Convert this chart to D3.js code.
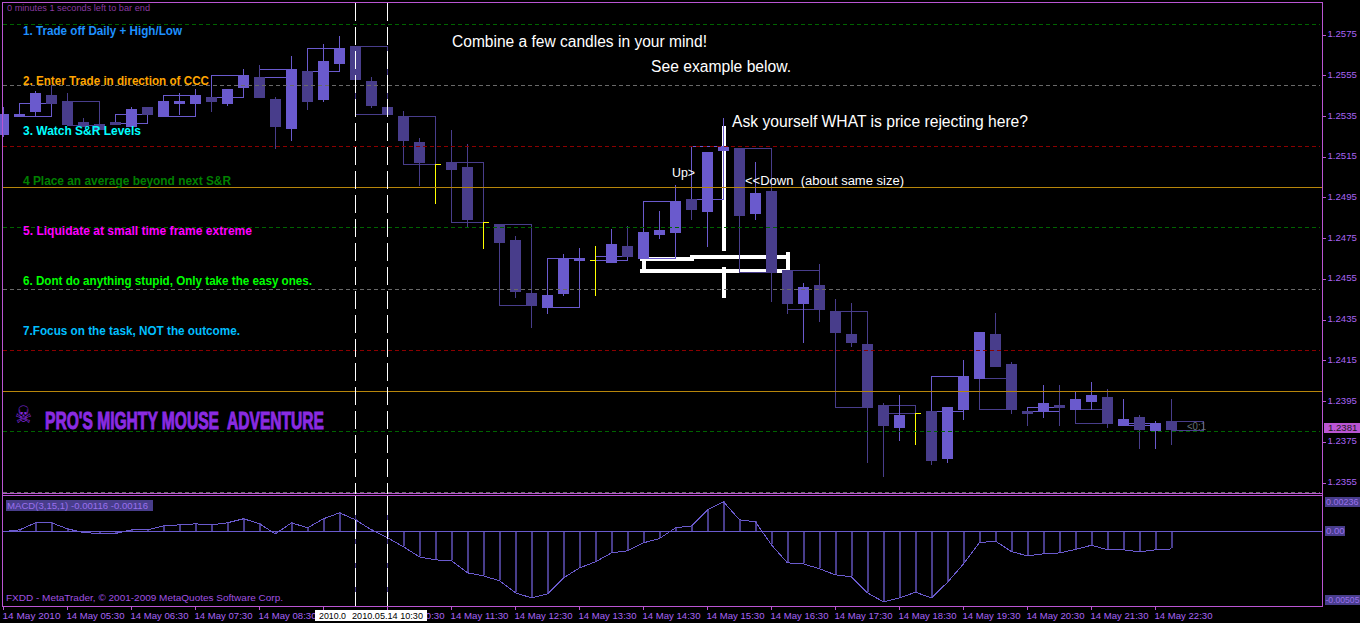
<!DOCTYPE html>
<html>
<head>
<meta charset="utf-8">
<style>
  html, body { margin: 0; padding: 0; background: #000; overflow: hidden; }
  text { font-family: "Liberation Sans", Arial, sans-serif; }
</style>
<script src="https://cdn.jsdelivr.net/npm/d3@7"></script>
</head>
<body>
<div id="chart"></div>
<script>
//bar data, one entry per 15 minute bar starting 04:30
var opens = [1.25254,1.25342,1.25367,1.25450,1.25421,1.25318,1.25308,1.25318,1.25293,1.25392,1.25342,1.25406,1.25406,1.25441,1.25406,1.25485,1.25539,1.25431,1.25283,1.25568,1.25426,1.25603,1.25691,1.25519,1.25392,1.25347,1.25220,1.25112,1.25121,1.25097,1.24827,1.24817,1.24738,1.24478,1.24404,1.24473,1.24635,1.24640,1.24625,1.24709,1.24645,1.24763,1.24773,1.24940,1.24876,1.25175,1.25190,1.24866,1.24979,1.24591,1.24424,1.24517,1.24390,1.24277,1.24228,1.23928,1.23815,1.23889,1.23899,1.23663,1.23903,1.24056,1.24277,1.24129,1.23899,1.23894,1.23928,1.23903,1.23943,1.23967,1.23825,1.23869,1.23800,1.23849];
var closes = [1.25357,1.25357,1.25460,1.25406,1.25303,1.25293,1.25279,1.25303,1.25382,1.25352,1.25421,1.25421,1.25450,1.25416,1.25480,1.25549,1.25436,1.25293,1.25578,1.25416,1.25617,1.25681,1.25524,1.25396,1.25352,1.25225,1.25116,1.25112,1.25082,1.24837,1.24827,1.24724,1.24483,1.24414,1.24468,1.24650,1.24650,1.24640,1.24719,1.24655,1.24778,1.24787,1.24930,1.24886,1.25170,1.25195,1.24856,1.24969,1.24576,1.24424,1.24507,1.24395,1.24282,1.24232,1.23913,1.23825,1.23879,1.23889,1.23653,1.23918,1.24070,1.24287,1.24115,1.23903,1.23884,1.23938,1.23913,1.23958,1.23977,1.23835,1.23859,1.23805,1.23840,1.23805];
var highs = [1.25392,1.25357,1.25470,1.25500,1.25460,1.25337,1.25308,1.25318,1.25392,1.25392,1.25421,1.25460,1.25480,1.25441,1.25480,1.25578,1.25598,1.25441,1.25642,1.25568,1.25701,1.25740,1.25691,1.25539,1.25392,1.25372,1.25239,1.25112,1.25279,1.25210,1.24827,1.24817,1.24758,1.24478,1.24468,1.24670,1.24699,1.24709,1.24792,1.24807,1.24778,1.24881,1.25008,1.24940,1.25170,1.25337,1.25190,1.25121,1.24979,1.24591,1.24527,1.24621,1.24449,1.24429,1.24228,1.23938,1.23977,1.23889,1.23899,1.23918,1.24149,1.24287,1.24380,1.24139,1.23899,1.24026,1.24026,1.23992,1.24041,1.24007,1.23958,1.23879,1.23849,1.23958];
var lows = [1.25244,1.25342,1.25347,1.25406,1.25303,1.25293,1.25279,1.25303,1.25293,1.25352,1.25342,1.25352,1.25406,1.25367,1.25396,1.25485,1.25436,1.25185,1.25225,1.25377,1.25416,1.25603,1.25524,1.25387,1.25352,1.25225,1.25003,1.24915,1.25082,1.24797,1.24694,1.24724,1.24454,1.24306,1.24375,1.24463,1.24635,1.24463,1.24625,1.24655,1.24645,1.24743,1.24773,1.24837,1.24704,1.25175,1.24689,1.24837,1.24434,1.24375,1.24232,1.24336,1.24282,1.24213,1.23643,1.23574,1.23751,1.23732,1.23633,1.23643,1.23854,1.24056,1.24115,1.23884,1.23825,1.23864,1.23825,1.23903,1.23903,1.23815,1.23825,1.23712,1.23712,1.23732];

//three bar range boxes, first one starts on bar 1
var boxOpens = [1.25347,1.25421,1.25313,1.25347,1.25441,1.25539,1.25568,1.25691,1.25347,1.25121,1.24817,1.24409,1.24640,1.24650,1.24940,1.25190,1.24591,1.24390,1.23928,1.23899,1.24061,1.23899,1.23908,1.23830,1.23849];
var boxCloses = [1.25411,1.25303,1.25357,1.25450,1.25549,1.25578,1.25681,1.25357,1.25112,1.24827,1.24419,1.24650,1.24660,1.24930,1.25200,1.24581,1.24399,1.23918,1.23889,1.24070,1.23908,1.23918,1.23840,1.23840,1.23805];

var macdValues = [0,0.00011,0.00059,0.00059,0.00018,-0.00007,-0.00013,-0.00013,0.00011,0.00011,0.00038,0.00045,0.00052,0.00045,0.00059,0.00086,0.00052,-0.00016,0.00059,0.00025,0.00086,0.00126,0.00079,0.00011,-0.00042,-0.00103,-0.00171,-0.00191,-0.00197,-0.00278,-0.00299,-0.00332,-0.00413,-0.00447,-0.00420,-0.00312,-0.00245,-0.00204,-0.00144,-0.00130,-0.00076,-0.00047,0.00025,0.00038,0.00146,0.00200,0.00079,0.00065,-0.00090,-0.00211,-0.00218,-0.00251,-0.00292,-0.00305,-0.00413,-0.00474,-0.00447,-0.00409,-0.00447,-0.00342,-0.00218,-0.00074,-0.00065,-0.00135,-0.00164,-0.00150,-0.00144,-0.00121,-0.00092,-0.00123,-0.00123,-0.00137,-0.00123,-0.00117];

var priceTicks = [1.2575,1.2555,1.2535,1.2515,1.2495,1.2475,1.2455,1.2435,1.2415,1.2395,1.2375,1.2355];
var timeTicks = ["04:30","05:30","06:30","07:30","08:30","09:30","10:30","11:30","12:30","13:30","14:30","15:30","16:30","17:30","18:30","19:30","20:30","21:30","22:30"];
var timeLabels = ["14 May 2010","14 May 05:30","14 May 06:30","14 May 07:30","14 May 08:30","14 May 09:30","14 May 10:30","14 May 11:30","14 May 12:30","14 May 13:30","14 May 14:30","14 May 15:30","14 May 16:30","14 May 17:30","14 May 18:30","14 May 19:30","14 May 20:30","14 May 21:30","14 May 22:30"];

//horizontal levels
var greenLevels = [1.2580,1.2480,1.2380];
var grayLevels = [1.2550,1.2450,1.2350];
var redLevels = [1.2520,1.2420];
var goldLevels = [1.2500,1.23995];

//bars marked with the vertical dashes
var markedBars = [22,24];

//hand drawn white lines: bar from, price from, bar to, price to
var whiteLines = [
  [45,1.25288,45,1.24694],
  [45,1.24596,45,1.24463],
  [39.9,1.24645,43,1.24645],
  [43,1.24655,49,1.24655],
  [39.9,1.24586,49,1.24586],
  [40,1.24645,40,1.24586],
  [49,1.24670,49,1.24586]
];

var width = 1360, height = 623;
var bright = "#6a5acd", dark = "#483d8b", frame = "#ba55d3", axisText = "#a864f4";

var svg = d3.select("#chart").append("svg")
    .attr("width", width)
    .attr("height", height)
    .style("display", "block")
    .style("background", "#000");

var parseTime = d3.utcParse("%Y-%m-%d %H:%M");
var firstBar = parseTime("2010-05-14 04:30");
function barTime(i) { return new Date(+firstBar + i * 15 * 60000); }

//scales
var x = d3.scaleUtc().domain([barTime(0), barTime(73)]).range([3, 3 + 16 * 73]);
var y = d3.scaleLinear().domain([1.2355, 1.2575]).range([482, 34]);
var yMacd = d3.scaleLinear().domain([-0.00505, 0.00236]).range([606, 496]);

function bx(i) { return Math.round(x(barTime(i))); }
function py(p) { return Math.round(y(p)); }

//white annotation is the bottom layer
svg.append("g").selectAll("line").data(whiteLines).join("line")
    .attr("x1", function(d) { return bx(d[0]) + 0.5; })
    .attr("x2", function(d) { return bx(d[2]) + 0.5; })
    .attr("y1", function(d) { return y(d[1]); })
    .attr("y2", function(d) { return y(d[3]); })
    .attr("stroke", "#fff")
    .attr("stroke-width", 4)
    .attr("stroke-linecap", "square")
    .attr("shape-rendering", "crispEdges");

//range boxes
var boxes = boxOpens.map(function(o, k) { return {start: 1 + k * 3, open: o, close: boxCloses[k]}; });
svg.append("g").selectAll("rect").data(boxes).join("rect")
    .attr("x", function(d) { return bx(d.start) + 0.5; })
    .attr("y", function(d) { return py(Math.max(d.open, d.close)) + 0.5; })
    .attr("width", 32)
    .attr("height", function(d) { return py(Math.min(d.open, d.close)) - py(Math.max(d.open, d.close)); })
    .attr("fill", "none")
    .attr("stroke", function(d) { return d.close >= d.open ? bright : dark; })
    .attr("shape-rendering", "crispEdges");

//candles
var bars = opens.map(function(o, i) { return {i: i, open: o, close: closes[i], high: highs[i], low: lows[i]}; });
function barColor(d) {
  if (d.open === d.close) return "#ffff00";
  return d.close > d.open ? bright : dark;
}
var candle = svg.append("g").selectAll("g").data(bars).join("g");
candle.append("line")
    .attr("x1", function(d) { return bx(d.i) + 0.5; })
    .attr("x2", function(d) { return bx(d.i) + 0.5; })
    .attr("y1", function(d) { return py(d.high); })
    .attr("y2", function(d) { return py(d.low); })
    .attr("stroke", barColor)
    .attr("shape-rendering", "crispEdges");
candle.filter(function(d) { return d.open !== d.close; }).append("rect")
    .attr("x", function(d) { return bx(d.i) - 5; })
    .attr("y", function(d) { return py(Math.max(d.open, d.close)); })
    .attr("width", 11)
    .attr("height", function(d) { return py(Math.min(d.open, d.close)) - py(Math.max(d.open, d.close)); })
    .attr("fill", barColor);
//doji tick only shows on one side
candle.filter(function(d) { return d.open === d.close; }).append("line")
    .attr("x1", function(d) { return bx(d.i) + 0.5; })
    .attr("x2", function(d) { return bx(d.i) + (d.i === 37 ? -5 : 6); })
    .attr("y1", function(d) { return py(d.open) + 0.5; })
    .attr("y2", function(d) { return py(d.open) + 0.5; })
    .attr("stroke", "#ffff00")
    .attr("shape-rendering", "crispEdges");

//price levels
function levels(list, color, dash, x2) {
  svg.append("g").selectAll("line").data(list).join("line")
      .attr("x1", 3)
      .attr("x2", x2)
      .attr("y1", function(d) { return py(d) + 0.5; })
      .attr("y2", function(d) { return py(d) + 0.5; })
      .attr("stroke", color)
      .attr("stroke-dasharray", dash)
      .attr("shape-rendering", "crispEdges");
}
levels(greenLevels, "#006400", "4 3", 1320);
levels(grayLevels, "#696969", "4 3", 1320);
levels(redLevels, "#8b0000", "4 3", 1320);
levels(goldLevels, "#b8860b", null, 1322);

//macd panel
svg.append("g").selectAll("line").data(macdValues).join("line")
    .attr("x1", function(d, i) { return bx(i) + 1; })
    .attr("x2", function(d, i) { return bx(i) + 1; })
    .attr("y1", Math.round(yMacd(0)))
    .attr("y2", function(d) { return Math.round(yMacd(d)); })
    .attr("stroke", dark)
    .attr("stroke-width", 2)
    .attr("shape-rendering", "crispEdges");

svg.append("line")
    .attr("x1", 3).attr("x2", 1322)
    .attr("y1", Math.round(yMacd(0)) + 0.5).attr("y2", Math.round(yMacd(0)) + 0.5)
    .attr("stroke", bright)
    .attr("shape-rendering", "crispEdges");

var macdLine = d3.line()
    .x(function(d, i) { return bx(i) + 0.5; })
    .y(function(d) { return yMacd(d) + 0.5; });
svg.append("path")
    .attr("d", macdLine(macdValues))
    .attr("fill", "none")
    .attr("stroke", bright)
    .attr("shape-rendering", "crispEdges");

//dashed bar markers, solid over dark in the lower panel
markedBars.forEach(function(b) {
  var mx = bx(b) + 0.5;
  svg.append("line").attr("x1", mx).attr("x2", mx).attr("y1", 3).attr("y2", 494)
      .attr("stroke", "#fff").attr("stroke-dasharray", "18 6").attr("shape-rendering", "crispEdges");
  svg.append("line").attr("x1", mx).attr("x2", mx).attr("y1", 496).attr("y2", 606)
      .attr("stroke", dark).attr("shape-rendering", "crispEdges");
  svg.append("line").attr("x1", mx).attr("x2", mx).attr("y1", 496).attr("y2", 606)
      .attr("stroke", "#fff").attr("stroke-dasharray", "19 5").attr("shape-rendering", "crispEdges");
});

//frames
function hframe(yy) {
  svg.append("line").attr("x1", 2).attr("x2", 1323).attr("y1", yy).attr("y2", yy)
      .attr("stroke", frame).attr("shape-rendering", "crispEdges");
}
hframe(2.5);
hframe(495.5);
hframe(606.5);
svg.append("line").attr("x1", 1322.5).attr("x2", 1322.5).attr("y1", 2).attr("y2", 607)
    .attr("stroke", frame).attr("shape-rendering", "crispEdges");
svg.append("line").attr("x1", 2.5).attr("x2", 2.5).attr("y1", 2).attr("y2", 607)
    .attr("stroke", frame).attr("shape-rendering", "crispEdges");

//gray level on the main panel bottom sits over a purple line
svg.insert("line", ":first-child").attr("x1", 2).attr("x2", 1323).attr("y1", 493.5).attr("y2", 493.5)
    .attr("stroke", frame).attr("shape-rendering", "crispEdges");

//right axis
var priceAxis = d3.axisRight(y).tickValues(priceTicks).tickFormat(d3.format(".4f")).tickSize(3).tickPadding(2);
var gPrice = svg.append("g").attr("transform", "translate(1322.5,0.5)").call(priceAxis);
gPrice.select(".domain").remove();
gPrice.selectAll("line").attr("stroke", frame).attr("shape-rendering", "crispEdges");
gPrice.selectAll("text")
    .attr("fill", axisText)
    .attr("font-size", 9.6)
    .attr("dy", "0.22em")
    .style("font-family", '"Liberation Sans", Arial, sans-serif');

//time axis
var timeAxis = d3.axisBottom(x)
    .tickValues(timeTicks.map(function(t) { return parseTime("2010-05-14 " + t); }))
    .tickFormat(function(d, i) { return timeLabels[i]; })
    .tickSize(3)
    .tickPadding(2);
var gTime = svg.append("g").attr("transform", "translate(0,606.5)").call(timeAxis);
gTime.select(".domain").remove();
gTime.selectAll("line").attr("stroke", frame).attr("shape-rendering", "crispEdges");
gTime.selectAll("text")
    .attr("fill", axisText)
    .attr("font-size", 9.6)
    .attr("text-anchor", "start")
    .attr("dx", -1)
    .attr("dy", "0.75em")
    .attr("textLength", 58)
    .attr("lengthAdjust", "spacingAndGlyphs")
    .style("font-family", '"Liberation Sans", Arial, sans-serif');

//tag with background
function tag(str, tx, ty, w, h, bg, color, textX, size) {
  svg.append("rect").attr("x", tx).attr("y", ty).attr("width", w).attr("height", h).attr("fill", bg);
  label(str, textX === undefined ? tx + 2 : textX, ty + h / 2, size || 9.6, color);
}
function label(str, lx, ly, size, color, weight, len) {
  var t = svg.append("text")
      .attr("x", lx)
      .attr("y", ly)
      .attr("dy", "0.35em")
      .attr("font-size", size)
      .attr("fill", color)
      .attr("font-weight", weight || "normal")
      .text(str);
  if (len) t.attr("textLength", len).attr("lengthAdjust", "spacingAndGlyphs");
  return t;
}

tag("1.2381", 1324, 423, 36, 10, "#ba55d3", "#1a1a1a", 1328);
tag("0.00236", 1325, 497, 35, 10, dark, "#9a70ee", 1326, 9);
tag("0.00", 1325, 526, 20, 10, dark, "#9a70ee", 1326);
tag("-0.00505", 1325, 595, 35, 10, dark, "#9a70ee", 1325.5, 8.6);
tag("MACD(3,15,1) -0.00116 -0.00116", 6, 500, 147, 11, dark, "#9a70ee", 7);
label("FXDD - MetaTrader, \u00a9 2001-2009 MetaQuotes Software Corp.", 6, 598, 9.6, "#a050e0", "normal", 277);
label("0 minutes 1 seconds left to bar end", 7, 8, 9, "#8a3aa0", "normal", 143);

//crosshair date tags at the bottom
svg.append("rect").attr("x", 315).attr("y", 610).attr("width", 112).attr("height", 11).attr("fill", "#fff");
label("2010.0", 319, 615.5, 9.6, "#000", "normal", 27);
label("2010.05.14 10:30", 352, 615.5, 9.6, "#000", "normal", 71);

//rules list
var rules = [
  "1. Trade off Daily + High/Low",
  "2. Enter Trade in direction of CCC",
  "3. Watch S&R Levels",
  "4 Place an average beyond next S&R",
  "5. Liquidate at small time frame extreme",
  "6. Dont do anything stupid, Only take the easy ones.",
  "7.Focus on the task, NOT the outcome."
];
var ruleColors = ["#1e90ff", "#ffa500", "#00ffff", "#008000", "#ff00ff", "#00ff00", "#00bfff"];
var ruleWidths = [159, 186, 118, 208, 229, 289, 217];
rules.forEach(function(r, k) {
  label(r, 23, 31 + k * 50, 12, ruleColors[k], "bold", ruleWidths[k]);
});

//comments on the chart
label("Combine a few candles in your mind!", 452, 41, 16, "#fff", "normal", 255);
label("See example below.", 651, 66, 16, "#fff", "normal", 140);
label("Ask yourself WHAT is price rejecting here?", 732, 121, 16, "#fff", "normal", 296);
label("Up>", 672, 173, 12, "#fff", "normal", 23);
label("<<Down  (about same size)", 745, 181, 12, "#fff", "normal", 159).attr("xml:space", "preserve");
label("<0:1", 1187, 426, 10, "#66707a", "normal", 19);

//logo
label("\u2620", 15, 415, 24, "#8a2be2", "normal", 17).style("font-family", '"DejaVu Sans"');
label("PRO'S MIGHTY MOUSE  ADVENTURE", 45, 420.5, 24, "#8a2be2", "bold", 279)
    .style("font-family", '"Liberation Sans Narrow", "Liberation Sans"')
    .attr("xml:space", "preserve")
    .attr("stroke", "#8a2be2")
    .attr("stroke-width", 1);
</script>
</body>
</html>
